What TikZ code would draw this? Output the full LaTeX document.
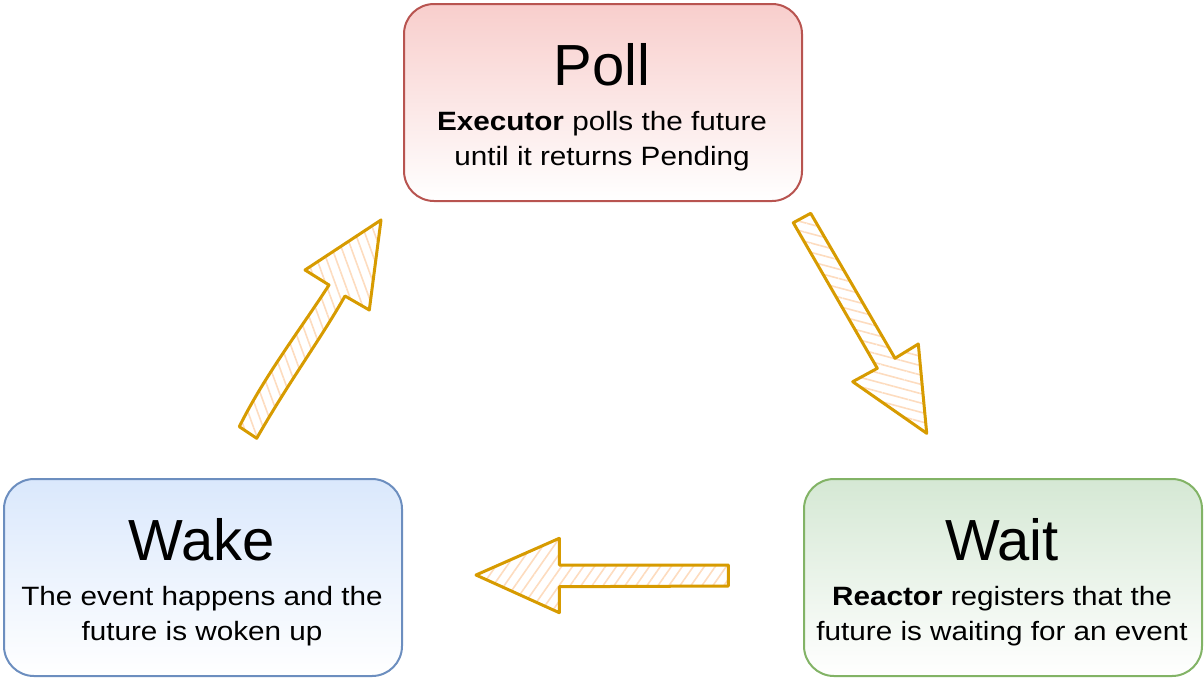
\documentclass[tikz,border=0pt]{standalone}
\usepackage{fontspec}
\setmainfont{Liberation Sans}
\newfontfamily\bodyfont[FakeStretch=1.12]{Liberation Sans}
\usetikzlibrary{patterns.meta}
\definecolor{pollfill}{HTML}{F8CECC}
\definecolor{polldraw}{HTML}{B85450}
\definecolor{wakefill}{HTML}{DAE8FC}
\definecolor{wakedraw}{HTML}{6C8EBF}
\definecolor{waitfill}{HTML}{D5E8D4}
\definecolor{waitdraw}{HTML}{82B366}
\definecolor{arrdraw}{HTML}{D79B00}
\definecolor{arrfill}{HTML}{FDDCBF}
\tikzset{
  box/.style={draw, line width=2pt, rounded corners=30pt, minimum width=398pt, minimum height=197pt, inner sep=0pt, anchor=north west, bottom color=white},
  title/.style={anchor=base, inner sep=0pt, font=\fontsize{58}{70}\selectfont},
  body/.style={anchor=base, inner sep=0pt, font=\bodyfont\fontsize{26.5}{32}\selectfont},
  blockarrow/.style={draw=arrdraw, line width=3pt, line join=round},
}
\begin{document}
\begin{tikzpicture}[x=1pt,y=-1pt]
\useasboundingbox (0,0) rectangle (1204,678);
% boxes
\node[box, draw=polldraw, top color=pollfill] (poll) at (403,3) {};
\node[box, draw=wakedraw, top color=wakefill] (wake) at (3,478) {};
\node[box, draw=waitdraw, top color=waitfill] (wait) at (803,478) {};
% texts
\node[title] (pollT) at (602,85) {Poll};
\node[body] (pollB1) at (602,130) {\textbf{Executor} polls the future};
\node[body] (pollB2) at (602,165) {until it returns Pending};
\node[title] (wakeT) at (202,560) {Wake};
\node[body] (wakeB1) at (202,605) {The event happens and the};
\node[body] (wakeB2) at (202,640) {future is woken up};
\node[title] (waitT) at (1002,560) {Wait};
\node[body] (waitB1) at (1002,605) {\textbf{Reactor} registers that the};
\node[body] (waitB2) at (1002,640) {future is waiting for an event};
% arrow Poll -> Wait
\fill[pattern={Lines[angle=-15,distance=9pt,line width=1.6pt]}, pattern color=arrfill]
  (793.3,222.7) -- (810.7,213.3) -- (895,358.3) -- (918.3,344) -- (926.7,433.3) -- (852.7,381.7) -- (877.3,368.3) -- cycle;
\draw[blockarrow]
  (793.3,222.7) -- (810.7,213.3) -- (895,358.3) -- (918.3,344) -- (926.7,433.3) -- (852.7,381.7) -- (877.3,368.3) -- cycle;
% arrow Wake -> Poll
\fill[pattern={Lines[angle=-70,distance=9pt,line width=1.6pt]}, pattern color=arrfill]
  (239.3,426.7) -- (256.7,438.3) .. controls (290,380) and (320,340) .. (345,296) -- (369.3,310) -- (381,220) -- (305,270) -- (329,285) .. controls (300,330) and (265,375) .. cycle;
\draw[blockarrow]
  (239.3,426.7) -- (256.7,438.3) .. controls (290,380) and (320,340) .. (345,296) -- (369.3,310) -- (381,220) -- (305,270) -- (329,285) .. controls (300,330) and (265,375) .. cycle;
% arrow Wait -> Wake
\fill[pattern={Lines[angle=55,distance=9pt,line width=1.6pt]}, pattern color=arrfill]
  (476,575) -- (559.3,538.3) -- (559.3,565) -- (728.3,565) -- (728.3,586) -- (559.3,586.7) -- (559.3,612.7) -- cycle;
\draw[blockarrow]
  (476,575) -- (559.3,538.3) -- (559.3,565) -- (728.3,565) -- (728.3,586) -- (559.3,586.7) -- (559.3,612.7) -- cycle;
\end{tikzpicture}
\end{document}
